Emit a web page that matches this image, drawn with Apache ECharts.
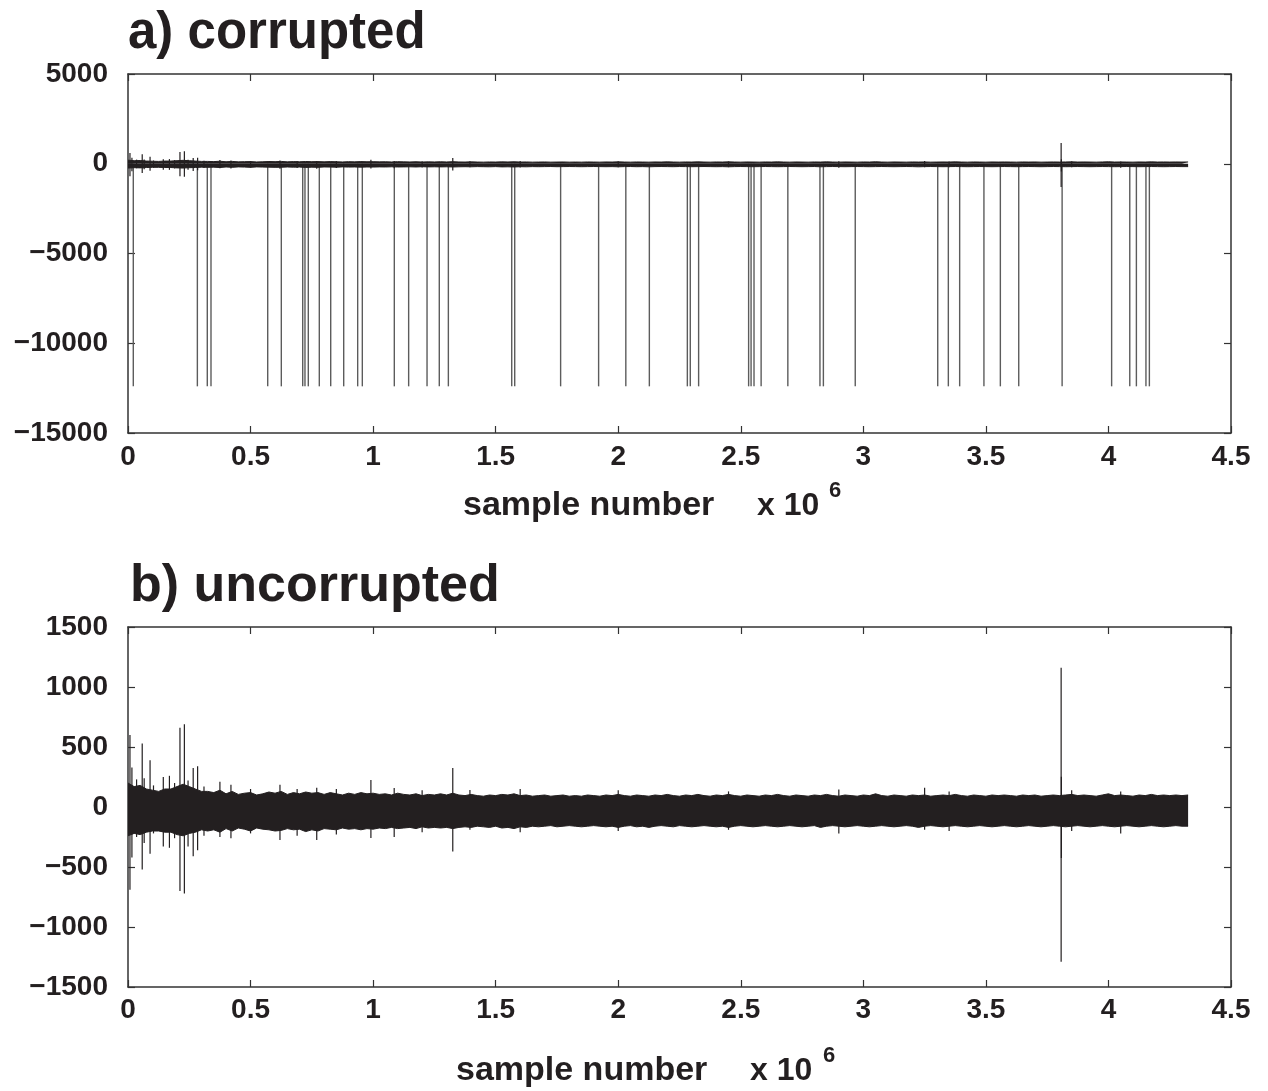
<!DOCTYPE html>
<html>
<head>
<meta charset="utf-8">
<script src="https://cdn.jsdelivr.net/npm/echarts@6/dist/echarts.min.js"></script>
<style>
html,body{margin:0;padding:0;background:#fff;}
#chart{width:1268px;height:1091px;}
</style>
</head>
<body>
<div id="chart"></div>
<script>
// ---- data (sample number in units of 10^6) ----
const xRange = [0, 4.5];
const xInterval = 0.5;
const yRangeA = [-15000, 5000];
const yIntervalA = 5000;
const yRangeB = [-1500, 1500];
const yIntervalB = 500;

// envelope of the dense signal band, read every 0.025 x10^6 samples
const envStep = 0.025;
const envUpper = [
  200,170,180,150,140,130,150,150,170,190,170,150,130,130,120,140,110,130,105,115,
  120,100,110,125,115,130,105,120,110,125,115,120,105,120,110,100,115,105,120,110,
  115,105,110,100,115,105,100,110,95,105,100,110,100,115,100,95,105,95,90,100,
  95,105,100,110,95,100,90,95,100,90,95,100,90,95,90,100,95,90,100,95,
  105,95,90,100,95,90,100,95,105,95,90,100,95,105,95,90,100,95,105,95,
  90,100,95,90,100,95,105,95,90,100,95,90,100,95,105,95,90,100,95,90,
  100,95,110,95,90,100,95,90,100,95,100,90,95,100,95,105,95,90,100,95,
  90,100,95,100,95,90,100,95,100,90,95,100,95,100,105,95,100,95,90,100,
  110,95,100,95,90,100,95,105,95,100,95,100,95,100
];
const envLower = [
  -240,-220,-230,-210,-200,-200,-210,-210,-230,-240,-220,-210,-190,-200,-190,-210,-180,-200,-175,-185,
  -200,-175,-185,-190,-200,-195,-180,-190,-185,-205,-190,-200,-180,-185,-190,-175,-185,-180,-190,-180,
  -185,-175,-180,-170,-180,-175,-170,-180,-165,-175,-170,-175,-170,-180,-170,-165,-170,-160,-165,-170,
  -160,-175,-170,-180,-165,-170,-160,-165,-160,-155,-165,-160,-155,-160,-165,-160,-155,-160,-165,-160,
  -170,-160,-155,-165,-160,-170,-160,-155,-160,-165,-155,-160,-165,-160,-155,-160,-165,-160,-170,-160,
  -155,-160,-165,-160,-155,-160,-165,-160,-155,-160,-165,-160,-155,-170,-160,-155,-160,-165,-160,-155,
  -160,-165,-160,-155,-160,-165,-160,-155,-160,-170,-160,-155,-160,-165,-160,-155,-160,-165,-160,-155,
  -160,-165,-160,-155,-160,-165,-160,-155,-160,-165,-160,-155,-160,-165,-160,-155,-160,-165,-160,-155,
  -160,-165,-160,-155,-160,-165,-160,-155,-160,-165,-160,-155,-160,-160
];

// isolated excursions of the signal: [position, min, max]
const signalSpikes = [
  [0.008,-690,600],[0.016,-420,330],[0.035,-250,230],[0.058,-520,530],[0.066,-300,240],
  [0.090,-390,390],[0.104,-220,180],[0.144,-330,250],[0.169,-340,260],[0.190,-260,200],
  [0.212,-700,660],[0.230,-720,690],[0.245,-330,220],[0.266,-410,325],[0.284,-360,340],
  [0.310,-240,170],[0.375,-250,210],[0.420,-260,185],[0.500,-220,150],[0.620,-275,185],
  [0.690,-240,150],[0.770,-275,160],[0.850,-230,150],[0.991,-258,225],[1.086,-250,158],
  [1.200,-210,140],[1.325,-370,325],[1.395,-190,142],[1.600,-210,150],[2.000,-200,140],
  [2.450,-190,130],[2.900,-220,145],[3.250,-190,160],[3.350,-200,130],[3.807,-1290,1160],
  [3.808,-425,252],[3.850,-200,140],[4.050,-220,130]
];

// corrupted samples (positions) and their value
const corruptPositions = [
  0.0216,0.283,0.3235,0.3386,0.570,0.6255,0.7128,0.722,0.7356,0.7805,0.827,0.880,0.937,0.956,
  1.0865,1.145,1.220,1.270,1.307,1.5655,1.5777,1.765,1.920,2.031,2.127,2.282,2.294,2.328,
  2.532,2.542,2.554,2.583,2.692,2.823,2.837,2.967,3.3035,3.3468,3.393,3.492,3.559,3.634,
  3.811,4.013,4.087,4.114,4.153,4.167
];
const corruptValue = -12400;

// ---- chart ----
const FONT = '"Liberation Sans", Arial, sans-serif';
const INK = '#231f20';
const chart = echarts.init(document.getElementById('chart'), null, {renderer: 'canvas'});

const upperData = envUpper.map((v, i) => [i * envStep, v]);
const lowerData = envLower.map((v, i) => [i * envStep, v]);
const corruptData = corruptPositions.map(x => [x, corruptValue, 0]);

function spikeRenderer(color, width) {
  return function (params, api) {
    const p1 = api.coord([api.value(0), api.value(1)]);
    const p2 = api.coord([api.value(0), api.value(2)]);
    return {
      type: 'line',
      shape: {x1: p1[0], y1: p1[1], x2: p2[0], y2: p2[1]},
      style: {stroke: color, lineWidth: width}
    };
  };
}

const axisLine = {show: true, onZero: false, lineStyle: {color: '#333', width: 1.5}};
const tickIn = {show: true, inside: true, length: 7, lineStyle: {color: '#333', width: 1.2}};
const lbl = {color: INK, fontFamily: FONT, fontWeight: 'bold', fontSize: 28};
const minusFmt = v => String(v).replace('-', '\u2212');

function xAxes(grid, margin) {
  return [
    {type: 'value', gridIndex: grid, position: 'bottom', min: xRange[0], max: xRange[1], interval: xInterval,
     axisLine: axisLine, axisTick: tickIn, splitLine: {show: false},
     axisLabel: Object.assign({margin: margin, showMinLabel: true, showMaxLabel: true}, lbl)},
    {type: 'value', gridIndex: grid, position: 'top', min: xRange[0], max: xRange[1], interval: xInterval,
     axisLine: axisLine, axisTick: tickIn, splitLine: {show: false}, axisLabel: {show: false}}
  ];
}
function yAxes(grid, range, interval) {
  return [
    {type: 'value', gridIndex: grid, position: 'left', min: range[0], max: range[1], interval: interval,
     axisLine: axisLine, axisTick: tickIn, splitLine: {show: false},
     axisLabel: Object.assign({margin: 20, formatter: minusFmt, showMinLabel: true, showMaxLabel: true}, lbl)},
    {type: 'value', gridIndex: grid, position: 'right', min: range[0], max: range[1], interval: interval,
     axisLine: axisLine, axisTick: tickIn, splitLine: {show: false}, axisLabel: {show: false}}
  ];
}

function bandSeries(xi, yi) {
  const common = {type: 'line', xAxisIndex: xi, yAxisIndex: yi, symbol: 'none', silent: true,
    lineStyle: {color: INK, width: 1}, areaStyle: {color: INK, opacity: 1, origin: 0}, z: 3, animation: false};
  return [
    Object.assign({data: upperData}, common),
    Object.assign({data: lowerData}, common)
  ];
}

const txt = (text, x, y, size) => ({
  type: 'text', x: x, y: y,
  style: {text: text, fill: INK, font: 'bold ' + size + 'px ' + FONT, verticalAlign: 'middle', align: 'left'}
});

chart.setOption({
  backgroundColor: '#fff',
  animation: false,
  grid: [
    {left: 128, top: 74, width: 1103, height: 359},
    {left: 128, top: 627, width: 1103, height: 360}
  ],
  xAxis: xAxes(0, 10).concat(xAxes(1, 9)),
  yAxis: yAxes(0, yRangeA, yIntervalA).concat(yAxes(1, yRangeB, yIntervalB)),
  series: [
    {type: 'custom', xAxisIndex: 0, yAxisIndex: 0, data: corruptData, encode: {x: 0, y: [1, 2]},
     renderItem: spikeRenderer('#5c5c5c', 1.4), z: 2, silent: true},
    {type: 'custom', xAxisIndex: 0, yAxisIndex: 0, data: signalSpikes, encode: {x: 0, y: [1, 2]},
     renderItem: spikeRenderer(INK, 1.2), z: 2, silent: true},
    ...bandSeries(0, 0),
    {type: 'custom', xAxisIndex: 2, yAxisIndex: 2, data: signalSpikes, encode: {x: 0, y: [1, 2]},
     renderItem: spikeRenderer(INK, 1.2), z: 2, silent: true},
    ...bandSeries(2, 2)
  ],
  graphic: [
    txt('a) corrupted', 128, 34, 51),
    txt('sample number', 463, 506, 34),
    txt('x 10', 757, 506, 32),
    txt('6', 829, 491, 22),
    txt('b) uncorrupted', 130, 587, 52),
    txt('sample number', 456, 1071, 34),
    txt('x 10', 750, 1071, 32),
    txt('6', 823, 1056, 22)
  ]
});
</script>
</body>
</html>
